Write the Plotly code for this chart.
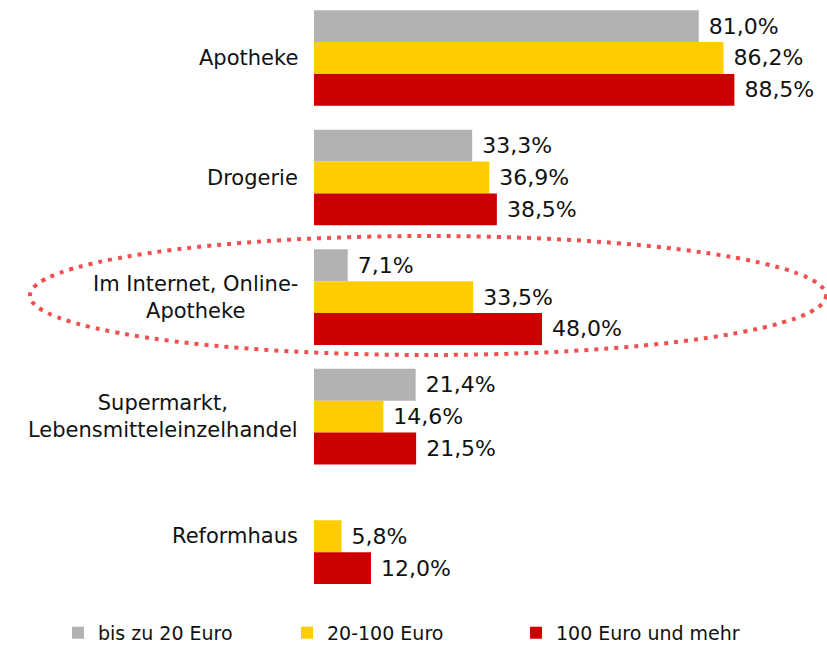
import plotly.graph_objects as go

categories = ["Apotheke", "Drogerie", "Im Internet, Online-<br>Apotheke",
              "Supermarkt,<br>Lebensmitteleinzelhandel", "Reformhaus"]
series_names = ["bis zu 20 Euro", "20-100 Euro", "100 Euro und mehr"]
vals_bis20 = [81.0, 33.3, 7.1, 21.4, None]
vals_20_100 = [86.2, 36.9, 33.5, 14.6, 5.8]
vals_100plus = [88.5, 38.5, 48.0, 21.5, 12.0]
colors = ["#b2b2b2", "#ffcc00", "#cc0000"]

FONT = "DejaVu Sans"
FS = 21

def fmt(v):
    return "" if v is None else "\u00a0" + f"{v:.1f}%".replace(".", ",")

fig = go.Figure()
for name, vals, col in zip(series_names, [vals_bis20, vals_20_100, vals_100plus], colors):
    fig.add_trace(go.Bar(
        y=categories, x=vals, name=name, orientation="h",
        marker=dict(color=col, line=dict(width=0)),
        text=[fmt(v) for v in vals], textposition="outside",
        textfont=dict(family=FONT, size=22, color="#111111"),
        cliponaxis=False,
    ))

L, W, H = 314, 827, 646
plot_h = 596

def px(x):
    return x / W

def py(y):
    return 1 - y / plot_h

# category labels as centred, multi-line annotations left of the bars
annotations = [dict(xref="paper", yref="y", x=px(300), y=c, text=c,
                    xanchor="right", yanchor="middle", align="center", showarrow=False,
                    font=dict(family=FONT, size=FS, color="#111111"))
               for c in categories]

fig.update_layout(
    width=W, height=H,
    margin=dict(l=0, r=0, t=0, b=H - plot_h, autoexpand=False),
    barmode="group", bargap=0.2, bargroupgap=0,
    plot_bgcolor="white", paper_bgcolor="white",
    font=dict(family=FONT, size=FS, color="#111111"),
    xaxis=dict(domain=[L / W, 1], range=[0, (W - L) / 4.75], visible=False),
    yaxis=dict(range=[4.5, -0.485], showgrid=False, zeroline=False, showline=False,
               ticks="", showticklabels=False, automargin=False),
    showlegend=True,
    legend=dict(orientation="h", traceorder="normal", x=px(58), xanchor="left",
                y=-0.03, yanchor="top", font=dict(family=FONT, size=19, color="#111111"),
                itemwidth=30, entrywidth=184, entrywidthmode="pixels"),
    annotations=annotations,
    shapes=[dict(type="circle", xref="paper", yref="paper",
                 x0=px(30), x1=px(826), y0=py(236), y1=py(355),
                 line=dict(color="#f05050", width=4, dash="4px,6px"))],
)

fig.write_html("out.html", config={"displayModeBar": False},
               post_script="document.body.style.margin='0';")
